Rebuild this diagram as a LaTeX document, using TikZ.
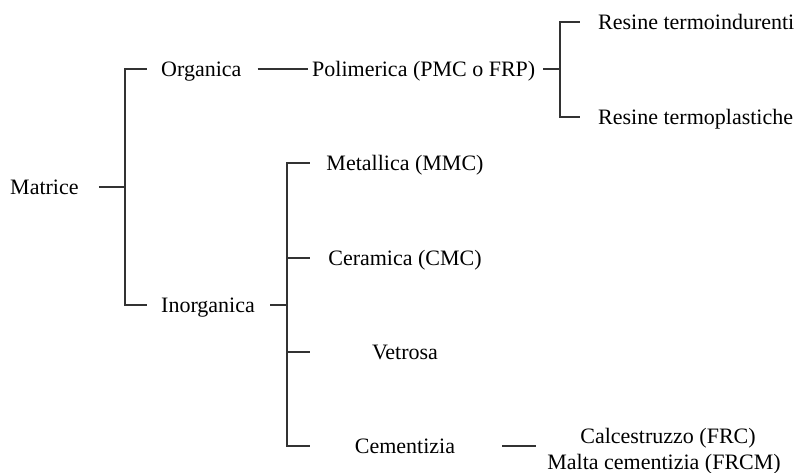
\documentclass[tikz,border=0pt]{standalone}
\usepackage{fontspec}
\setmainfont{Liberation Serif}
\usetikzlibrary{positioning}
\definecolor{grigio}{RGB}{50,50,50}

\begin{document}
\begin{tikzpicture}[x=1pt, y=-1pt,
	voce/.style={font=\fontsize{22}{27}\selectfont, inner sep=0pt, text height=14.6pt, text depth=0pt, anchor=west},
	voce centrata/.style={voce, anchor=center, minimum width=164pt},
	ramo/.style={grigio, line width=1.3pt}]
	\useasboundingbox (0,0) rectangle (795,473);
	% voci
	\node[voce] (mat) at (10,187) {Matrice};
	\node[voce] (org) at (161,69) {Organica};
	\node[voce] (inorg) at (161,305) {Inorganica};
	\node[voce] (poli) at (312,69) {Polimerica (PMC o FRP)};
	\node[voce] (rter) at (598,22) {Resine termoindurenti};
	\node[voce] (rpla) at (598,117) {Resine termoplastiche};
	\node[voce centrata] (met) at (405,163) {Metallica (MMC)};
	\node[voce centrata] (cer) at (405,258) {Ceramica (CMC)};
	\node[voce centrata] (vet) at (405,352) {Vetrosa};
	\node[voce centrata] (cem) at (405,446) {Cementizia};
	\node[voce, anchor=base] (calc) at (668,443) {Calcestruzzo (FRC)};
	\node[voce, anchor=base] (malta) at (664,469) {Malta cementizia (FRCM)};
	% nodi delle parentesi
	\coordinate (j1) at (125,187);
	\coordinate (j2) at (560,69);
	\coordinate (j3) at (287,305);
	% matrice
	\draw[ramo, shorten <=20pt] (mat.east) -- (j1);
	\draw[ramo, shorten >=14pt] (j1) |- (org.west);
	\draw[ramo, shorten >=14pt] (j1) |- (inorg.west);
	% organica
	\draw[ramo, shorten <=16pt, shorten >=4pt] (org.east) -- (poli.west);
	\draw[ramo, shorten <=8pt] (poli.east) -- (j2);
	\draw[ramo, shorten >=18pt] (j2) |- (rter.west);
	\draw[ramo, shorten >=18pt] (j2) |- (rpla.west);
	% inorganica
	\draw[ramo, shorten <=15pt] (inorg.east) -- (j3);
	\draw[ramo, shorten >=13pt] (j3) |- (met.west);
	\draw[ramo, shorten >=13pt] (j3) |- (cer.west);
	\draw[ramo, shorten >=13pt] (j3) |- (vet.west);
	\draw[ramo, shorten >=13pt] (j3) |- (cem.west);
	% cementizia
	\draw[ramo, shorten <=15pt, shorten >=11pt] (cem.east) -- (cem.east -| malta.west);
\end{tikzpicture}
\end{document}
